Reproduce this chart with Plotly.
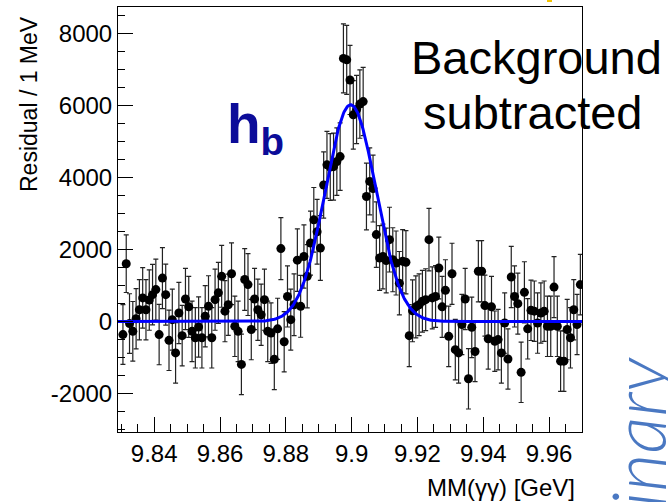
import numpy as np
import plotly.graph_objects as go

# ---- data ----
BIN_LOW = 9.830          # GeV, lower edge of first bin
BIN_WIDTH = 0.001        # GeV (1 MeV bins)

residual = [
    -360, 1610, -55, -270, 80, 330, 660, 330, 600, 750,
    890, -360, 1210, 750, -520, 55, -870, 240, -390, 630,
    410, -270, -450, -150, -450, 150, 425, -450, 610, 800,
    1260, 290, 470, 1330, -130, -270, -1190, 1170, 1030, -220,
    630, 330, 190, 610, -270, -320, -1050, -200, 2030, -560,
    700, 55, 470, 1710, 425, 1810, 1260, 2185, 2830, 2500,
    2045, 3800, 4360, 4300, 4310, 4450, 4590, 7320, 7280, 6720,
    5750, 5900, 6050, 6120, 3480, 3900, 3700, 2420, 1770, 1810,
    1700, 2280, 1720, 1630, 1070, 1680, 1650, -390, 300, 410,
    470, 565, 610, 2280, 660, 700, 1490, 410, 870, -410,
    1330, -780, -870, -80, 630, -1590, -160, -830, 1400, 1400,
    445, -480, 410, -545, -500, -870, -40, -1040, 1240, 700,
    500, -1410, 815, -200, 315, 290, -40, 240, 290, -130,
    -130, 960, -130, -1100, -1100, -220, -450, 330, -80, 1030,
]

residual_err = [
    830, 800, 830, 830, 840, 840, 840, 840, 840, 840,
    850, 840, 850, 850, 840, 850, 840, 850, 840, 850,
    850, 840, 840, 840, 840, 850, 850, 840, 850, 850,
    860, 850, 850, 860, 840, 840, 840, 860, 860, 840,
    850, 850, 850, 850, 840, 840, 840, 850, 860, 840,
    850, 850, 860, 870, 860, 880, 880, 890, 900, 900,
    900, 920, 930, 930, 930, 940, 940, 960, 960, 960,
    950, 950, 950, 950, 930, 930, 930, 910, 900, 900,
    900, 900, 890, 890, 880, 880, 880, 860, 860, 860,
    860, 860, 860, 870, 860, 860, 860, 850, 850, 840,
    850, 840, 840, 840, 850, 840, 840, 840, 850, 850,
    850, 840, 850, 840, 840, 840, 840, 840, 850, 850,
    850, 840, 850, 840, 840, 840, 840, 840, 840, 840,
    840, 850, 840, 840, 840, 840, 840, 840, 840, 840,
]

# fitted signal shape (parameters)
FIT_MEAN = 9.8997
FIT_SIGMA = 0.0077
FIT_AMPL = 6030

x_ticks = [9.84, 9.86, 9.88, 9.90, 9.92, 9.94, 9.96]
x_tick_labels = ["9.84", "9.86", "9.88", "9.9", "9.92", "9.94", "9.96"]
y_ticks = [-2000, 0, 2000, 4000, 6000, 8000]
y_tick_labels = ["-2000", "0", "2000", "4000", "6000", "8000"]

X_RANGE = [9.829, 9.970]
Y_RANGE = [-3070, 8750]

# ---- build ----
bin_centers = [BIN_LOW + BIN_WIDTH * (i + 0.5) for i in range(len(residual))]
curve_x = np.linspace(X_RANGE[0], X_RANGE[1], 600)
curve_y = FIT_AMPL * np.exp(-0.5 * ((curve_x - FIT_MEAN) / FIT_SIGMA) ** 2)

fig = go.Figure()
fig.add_trace(go.Scatter(
    x=bin_centers, y=residual, mode="markers",
    marker=dict(color="black", size=9),
    error_y=dict(type="data", array=residual_err, color="#222222",
                 thickness=1.2, width=2.5),
    cliponaxis=True,
))
fig.add_trace(go.Scatter(
    x=curve_x, y=curve_y, mode="lines",
    line=dict(color="#0000ff", width=3),
))

FONT = "Liberation Sans, Arial, sans-serif"
fig.update_layout(
    width=668, height=502,
    margin=dict(l=118, r=86, t=7, b=70),
    plot_bgcolor="white", paper_bgcolor="white",
    showlegend=False,
    font=dict(family=FONT, color="black"),
)
fig.update_xaxes(
    range=X_RANGE, tickmode="array", tickvals=x_ticks, ticktext=x_tick_labels,
    ticks="inside", ticklen=15, tickwidth=1, tickcolor="black",
    minor=dict(dtick=0.005, tick0=9.83, ticks="inside", ticklen=8,
               tickcolor="black", tickwidth=1, showgrid=False),
    showline=True, linecolor="black", linewidth=1, mirror=True,
    showgrid=False, zeroline=False,
    tickfont=dict(family=FONT, size=24, color="black"),
)
fig.update_yaxes(
    range=Y_RANGE, tickmode="array", tickvals=y_ticks, ticktext=y_tick_labels,
    ticks="inside", ticklen=15, tickwidth=1, tickcolor="black",
    minor=dict(dtick=500, tick0=0, ticks="inside", ticklen=7,
               tickcolor="black", tickwidth=1, showgrid=False),
    showline=True, linecolor="black", linewidth=1, mirror=True,
    showgrid=False, zeroline=False,
    tickfont=dict(family=FONT, size=24, color="black"),
)

PW, PH, L, T = 464.0, 425.0, 118.0, 7.0
def px(xp):
    return (xp - L) / PW
def py(yp):
    return (T + PH - yp) / PH

ann = []
ann.append(dict(text="Residual / 1 MeV", textangle=-90, xref="paper", yref="paper",
                x=px(29), y=py(104), xanchor="center", yanchor="middle",
                showarrow=False, font=dict(family=FONT, size=23, color="black")))
ann.append(dict(text="MM(\u03b3\u03b3) [GeV]", xref="paper", yref="paper",
                x=px(577), y=py(472), xanchor="right", yanchor="top",
                showarrow=False, font=dict(family=FONT, size=24, color="black")))
ann.append(dict(text="Background", xref="paper", yref="paper",
                x=px(536), y=py(57), xanchor="center", yanchor="middle",
                showarrow=False, font=dict(family=FONT, size=47, color="black")))
ann.append(dict(text="subtracted", xref="paper", yref="paper",
                x=px(532), y=py(113), xanchor="center", yanchor="middle",
                showarrow=False, font=dict(family=FONT, size=47, color="black")))
ann.append(dict(text="<b>h<sub>b</sub></b>", xref="paper", yref="paper",
                x=px(225), y=py(128), xanchor="left", yanchor="middle",
                showarrow=False, font=dict(family=FONT, size=55, color="#0c0c99")))
ann.append(dict(text="Preliminary", textangle=-90, xref="paper", yref="paper",
                x=px(637), y=py(356), xanchor="center", yanchor="top",
                showarrow=False,
                font=dict(family="Lato, Open Sans, sans-serif", size=74,
                          color="#4a78c2", style="italic", weight=300)))
fig.update_layout(annotations=ann)

fig.add_shape(type="rect", xref="paper", yref="paper",
              x0=px(547), x1=px(552), y0=py(2), y1=py(0),
              line=dict(width=0), fillcolor="#f5c400")

fig.write_html("out.html")
